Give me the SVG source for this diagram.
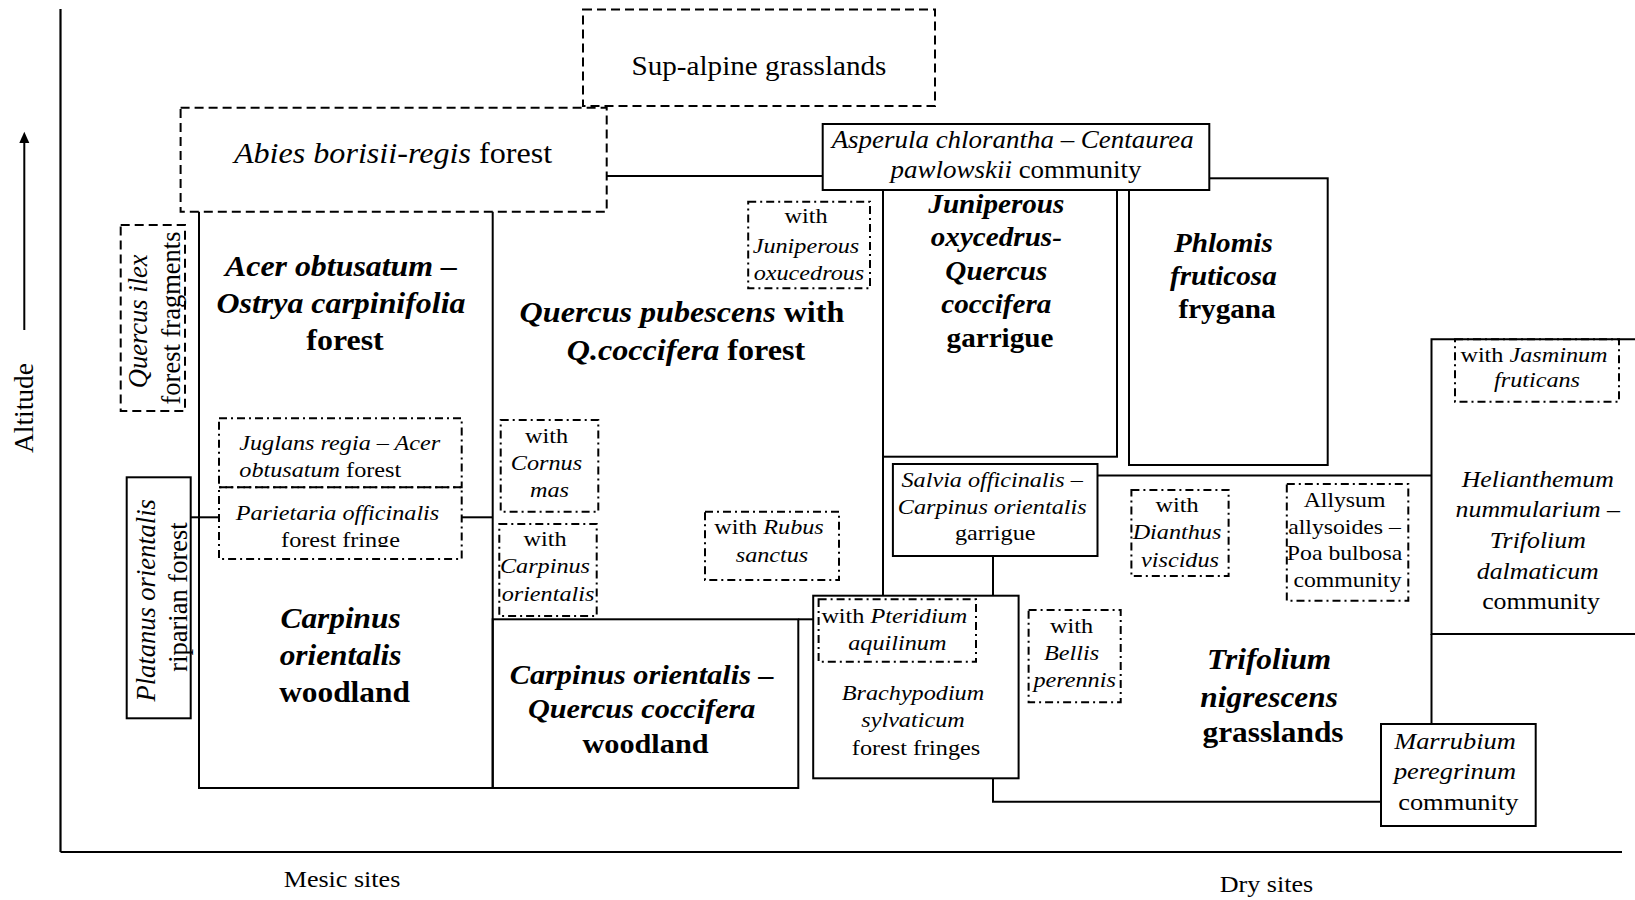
<svg xmlns="http://www.w3.org/2000/svg" width="1635" height="900" viewBox="0 0 1635 900">
<style>
  .box{fill:#fff;stroke:#000;stroke-width:2}
  .dash{fill:none;stroke:#000;stroke-width:2;stroke-dasharray:9 5}
  .dd{fill:none;stroke:#000;stroke-width:2;stroke-dasharray:8 4 2 4}
  .ln{fill:none;stroke:#000;stroke-width:2}
  .ax{fill:none;stroke:#000;stroke-width:2.2}
  text{font-family:"Liberation Serif","Times New Roman",serif;fill:#000}
  .i{font-style:italic}
  .b{font-weight:bold}
  .s22{font-size:22px}
</style>
<defs>
  <clipPath id="clipFringe" clipPathUnits="userSpaceOnUse">
    <rect x="-200" y="490" width="400" height="57"/>
  </clipPath>
</defs>

<g id="axes">
  <line class="ax" x1="60.5" y1="9" x2="60.5" y2="852"/>
  <line class="ax" x1="60.5" y1="852" x2="1622" y2="852"/>
  <line class="ln" x1="24.3" y1="330" x2="24.3" y2="140" stroke-width="1.6"/>
  <polygon points="24.3,131.7 19.3,143 29.3,143" fill="#000"/>
  <text transform="translate(33.3 408) rotate(-90)" text-anchor="middle" font-size="27.5">Altitude</text>
  <text transform="translate(342 0) scale(1.1 1)" x="0" y="886.7" text-anchor="middle" font-size="23.7">Mesic sites</text>
  <text transform="translate(1266.4 0) scale(1.1 1)" x="0" y="891.7" text-anchor="middle" font-size="23.7">Dry sites</text>
</g>

<g id="connectors">
  <path class="ln" d="M199,211.7 V788 H492.7 M492.7,211.7 V788"/>
  <line class="ln" x1="190.7" y1="517.3" x2="219" y2="517.3"/>
  <line class="ln" x1="461.7" y1="517.3" x2="492.7" y2="517.3"/>
  <line class="ln" x1="606.7" y1="176" x2="822.7" y2="176"/>
  <line class="ln" x1="883" y1="190" x2="883" y2="595.7"/>
  <line class="ln" x1="798.3" y1="619.3" x2="813.2" y2="619.3"/>
  <line class="ln" x1="1097.5" y1="475.5" x2="1431.5" y2="475.5"/>
  <line class="ln" x1="993" y1="556" x2="993" y2="595.7"/>
  <path class="ln" d="M993,778.3 V801.7 H1381"/>
  <line class="ln" x1="1431.5" y1="634" x2="1431.5" y2="724"/>
</g>

<g id="sup-alpine">
  <rect class="dash" x="583" y="9.5" width="352" height="96.5"/>
  <text transform="translate(759 0) scale(1.06 1)" x="0" y="75" text-anchor="middle" font-size="27.5">Sup-alpine grasslands</text>
</g>

<g id="abies">
  <rect class="dash" x="180.6" y="107.7" width="426.1" height="104"/>
  <text transform="translate(393 0) scale(1.1 1)" x="0" y="163" text-anchor="middle" font-size="29.2"><tspan class="i">Abies borisii-regis</tspan> forest</text>
</g>

<g id="phlomis">
  <rect class="box" x="1129" y="178.3" width="198.7" height="286.7"/>
  <text class="b" transform="translate(1227 0) scale(1.1 1)" text-anchor="middle" font-size="26.5">
    <tspan class="i" x="0" y="251.7">Phlomis</tspan>
    <tspan class="i" x="0" y="285">fruticosa</tspan>
    <tspan x="0" y="318.3">frygana</tspan>
  </text>
</g>

<g id="asperula">
  <rect class="box" x="822.7" y="124" width="386.6" height="66"/>
  <text transform="translate(1016 0) scale(1.1 1)" text-anchor="middle" font-size="24.5">
    <tspan class="i" x="0" y="148">Asperula chlorantha – Centaurea</tspan>
    <tspan x="0" y="178"><tspan class="i">pawlowskii</tspan> community</tspan>
  </text>
</g>

<g id="acer-forest">
  <text class="b" transform="translate(345 0) scale(1.1 1)" text-anchor="middle" font-size="29">
    <tspan class="i" x="0" y="276">Acer obtusatum –</tspan>
    <tspan class="i" x="0" y="312.7">Ostrya carpinifolia</tspan>
    <tspan x="0" y="350">forest</tspan>
  </text>
</g>

<g id="carpinus-woodland">
  <text class="b" transform="translate(344.5 0) scale(1.1 1)" text-anchor="middle" font-size="28.5">
    <tspan class="i" x="0" y="628.3">Carpinus</tspan>
    <tspan class="i" x="0" y="665">orientalis</tspan>
    <tspan x="0" y="701.7">woodland</tspan>
  </text>
</g>

<g id="quercus-ilex">
  <rect class="dash" x="120.7" y="225" width="64.3" height="186"/>
  <text transform="translate(147 318) rotate(-90)" text-anchor="middle" font-size="26.5">
    <tspan class="i" x="0" y="0">Quercus ilex</tspan>
    <tspan x="0" y="32.5">forest fragments</tspan>
  </text>
</g>

<g id="platanus">
  <rect class="box" x="126.7" y="477.3" width="64" height="241"/>
  <text transform="translate(154.5 597) rotate(-90)" text-anchor="middle" font-size="26.5">
    <tspan class="i" x="0" y="0">Platanus orientalis</tspan>
    <tspan x="0" y="32.5">riparian forest</tspan>
  </text>
</g>

<g id="juglans">
  <rect class="dd" x="219" y="418.3" width="242.7" height="69"/>
  <text class="s22" transform="translate(239.3 0) scale(1.1 1)" text-anchor="start">
    <tspan class="i" x="0" y="450">Juglans regia – Acer</tspan>
    <tspan x="0" y="477.3"><tspan class="i">obtusatum</tspan> forest</tspan>
  </text>
</g>

<g id="parietaria">
  <rect class="dd" x="219" y="487.3" width="242.7" height="71.7"/>
  <text class="s22" transform="translate(340.5 0) scale(1.1 1)" text-anchor="middle" clip-path="url(#clipFringe)">
    <tspan class="i" x="0" y="520">Parietaria officinalis</tspan>
    <tspan x="0" y="546.7">forest fringe</tspan>
  </text>
</g>

<g id="quercus-pubescens">
  <text class="b" transform="translate(686 0) scale(1.1 1)" text-anchor="middle" font-size="29.2">
    <tspan x="0" y="322.5"><tspan class="i">Quercus pubescens</tspan> with</tspan>
    <tspan x="0" y="360"><tspan class="i">Q.coccifera</tspan> forest</tspan>
  </text>
</g>

<g id="with-juniperous">
  <rect class="dd" x="748.2" y="201.7" width="121.8" height="86.6"/>
  <text class="s22" transform="translate(809 0) scale(1.1 1)" text-anchor="middle">
    <tspan x="0" y="223.3">with</tspan>
    <tspan class="i" x="0" y="253.3">Juniperous</tspan>
    <tspan class="i" x="0" y="280">oxucedrous</tspan>
  </text>
</g>

<g id="with-cornus">
  <rect class="dd" x="500.7" y="420" width="97.6" height="91.7"/>
  <text class="s22" transform="translate(549.5 0) scale(1.1 1)" text-anchor="middle">
    <tspan x="0" y="442.7">with</tspan>
    <tspan class="i" x="0" y="470">Cornus</tspan>
    <tspan class="i" x="0" y="497.3">mas</tspan>
  </text>
</g>

<g id="with-carpinus">
  <rect class="dd" x="499.3" y="524" width="97.4" height="92"/>
  <text class="s22" transform="translate(548 0) scale(1.1 1)" text-anchor="middle">
    <tspan x="0" y="545.7">with</tspan>
    <tspan class="i" x="0" y="573.3">Carpinus</tspan>
    <tspan class="i" x="0" y="600.7">orientalis</tspan>
  </text>
</g>

<g id="with-rubus">
  <rect class="dd" x="705" y="511.7" width="134" height="68.3"/>
  <text class="s22" transform="translate(772 0) scale(1.1 1)" text-anchor="middle">
    <tspan x="0" y="534">with <tspan class="i">Rubus</tspan></tspan>
    <tspan class="i" x="0" y="561.7">sanctus</tspan>
  </text>
</g>

<g id="carpinus-quercus-woodland">
  <rect class="ln" x="492.7" y="619.3" width="305.6" height="168.7"/>
  <text class="b" transform="translate(645.5 0) scale(1.1 1)" text-anchor="middle" font-size="27.5">
    <tspan class="i" x="0" y="684">Carpinus orientalis –</tspan>
    <tspan class="i" x="0" y="718.3">Quercus coccifera</tspan>
    <tspan x="0" y="753.3">woodland</tspan>
  </text>
</g>

<g id="juniperous-garrigue">
  <rect class="ln" x="883" y="190" width="234" height="266.7"/>
  <text class="b" transform="translate(1000 0) scale(1.1 1)" text-anchor="middle" font-size="26.5">
    <tspan class="i" x="0" y="213.3">Juniperous</tspan>
    <tspan class="i" x="0" y="246.5">oxycedrus-</tspan>
    <tspan class="i" x="0" y="280">Quercus</tspan>
    <tspan class="i" x="0" y="313.5">coccifera</tspan>
    <tspan x="0" y="347">garrigue</tspan>
  </text>
</g>

<g id="salvia">
  <rect class="box" x="892.9" y="464" width="204.6" height="92"/>
  <text class="s22" transform="translate(995.2 0) scale(1.1 1)" text-anchor="middle">
    <tspan class="i" x="0" y="486.7">Salvia officinalis –</tspan>
    <tspan class="i" x="0" y="514">Carpinus orientalis</tspan>
    <tspan x="0" y="540">garrigue</tspan>
  </text>
</g>

<g id="brachypodium">
  <rect class="box" x="813.2" y="595.7" width="205.4" height="182.6"/>
  <text class="s22" transform="translate(916 0) scale(1.1 1)" text-anchor="middle">
    <tspan class="i" x="0" y="700">Brachypodium</tspan>
    <tspan class="i" x="0" y="726.7">sylvaticum</tspan>
    <tspan x="0" y="755">forest fringes</tspan>
  </text>
</g>

<g id="with-pteridium">
  <rect class="dd" x="818.6" y="599.3" width="157.4" height="62.4"/>
  <text class="s22" transform="translate(897.3 0) scale(1.1 1)" text-anchor="middle">
    <tspan x="0" y="622.7">with <tspan class="i">Pteridium</tspan></tspan>
    <tspan class="i" x="0" y="650">aquilinum</tspan>
  </text>
</g>

<g id="with-bellis">
  <rect class="dd" x="1028.6" y="610" width="92.1" height="92.3"/>
  <text class="s22" transform="translate(1074.6 0) scale(1.1 1)" text-anchor="middle">
    <tspan x="0" y="632.7">with</tspan>
    <tspan class="i" x="0" y="660">Bellis</tspan>
    <tspan class="i" x="0" y="687.3">perennis</tspan>
  </text>
</g>

<g id="with-dianthus">
  <rect class="dd" x="1131.4" y="490" width="97.2" height="86"/>
  <text class="s22" transform="translate(1180 0) scale(1.1 1)" text-anchor="middle">
    <tspan x="0" y="511.7">with</tspan>
    <tspan class="i" x="0" y="539.3">Dianthus</tspan>
    <tspan class="i" x="0" y="566.7">viscidus</tspan>
  </text>
</g>

<g id="allysum">
  <rect class="dd" x="1286.8" y="484" width="121.5" height="116.7"/>
  <text class="s22" transform="translate(1347.5 0) scale(1.08 1)" text-anchor="middle">
    <tspan x="0" y="507">Allysum</tspan>
    <tspan x="0" y="534">allysoides –</tspan>
    <tspan x="0" y="560.5">Poa bulbosa</tspan>
    <tspan x="0" y="587">community</tspan>
  </text>
</g>

<g id="trifolium-grasslands">
  <text class="b" transform="translate(1273 0) scale(1.1 1)" text-anchor="middle" font-size="28.5">
    <tspan class="i" x="0" y="669.3">Trifolium</tspan>
    <tspan class="i" x="0" y="706.7">nigrescens</tspan>
    <tspan x="0" y="741.7">grasslands</tspan>
  </text>
</g>

<g id="helianthemum">
  <path class="ln" d="M1640,339.3 H1431.5 V634 H1640"/>
  <text transform="translate(1541 0) scale(1.1 1)" text-anchor="middle" font-size="23.5">
    <tspan class="i" x="0" y="487.5">Helianthemum</tspan>
    <tspan class="i" x="0" y="517">nummularium –</tspan>
    <tspan class="i" x="0" y="548">Trifolium</tspan>
    <tspan class="i" x="0" y="578.6">dalmaticum</tspan>
    <tspan x="0" y="609">community</tspan>
  </text>
</g>

<g id="with-jasminum">
  <rect class="dd" x="1455" y="339.3" width="164" height="62.5"/>
  <text class="s22" transform="translate(1537 0) scale(1.1 1)" text-anchor="middle">
    <tspan x="0" y="362.5">with <tspan class="i">Jasminum</tspan></tspan>
    <tspan class="i" x="0" y="387.5">fruticans</tspan>
  </text>
</g>

<g id="marrubium">
  <rect class="box" x="1381" y="724" width="154.7" height="102"/>
  <text transform="translate(1458.3 0) scale(1.1 1)" text-anchor="middle" font-size="24">
    <tspan class="i" x="0" y="749">Marrubium</tspan>
    <tspan class="i" x="0" y="779">peregrinum</tspan>
    <tspan x="0" y="810">community</tspan>
  </text>
</g>
</svg>
